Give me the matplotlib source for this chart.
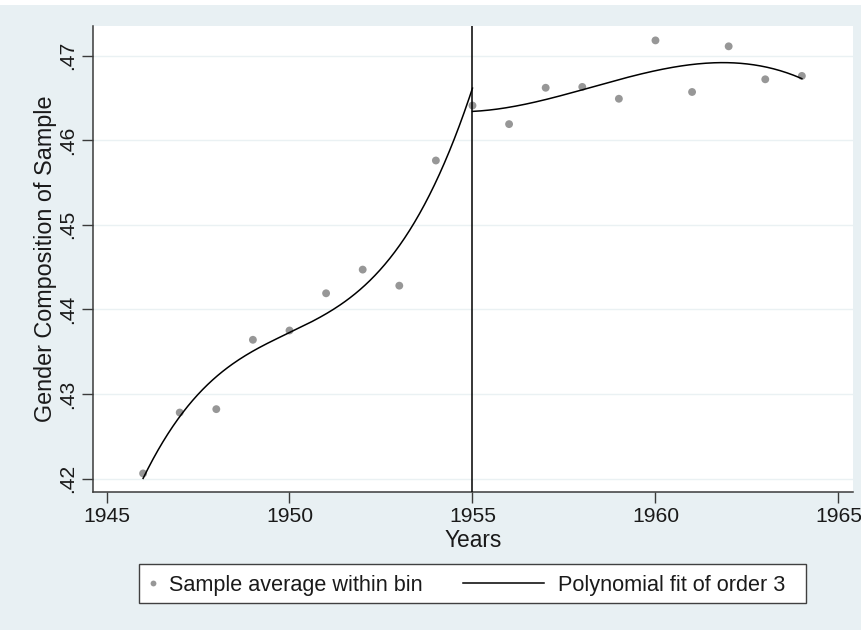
import numpy as np
import matplotlib.pyplot as plt
from matplotlib.lines import Line2D
from matplotlib.patches import Rectangle

plt.rcParams['font.family'] = ['Liberation Sans', 'DejaVu Sans']

# share of women in the sample, averaged within each birth-year bin
years = [1946, 1947, 1948, 1949, 1950, 1951, 1952, 1953, 1954, 1955,
         1956, 1957, 1958, 1959, 1960, 1961, 1962, 1963, 1964]
share = [0.4206, 0.4278, 0.4282, 0.4364, 0.4375, 0.4419, 0.4447, 0.4428, 0.4576, 0.4641,
         0.4619, 0.4662, 0.4663, 0.4649, 0.4718, 0.4657, 0.4711, 0.4672, 0.4676]

# fitted values of the cubic on each side of the cutoff
fit_years_left = [1946, 1947, 1948, 1949, 1950, 1951, 1952, 1953, 1954, 1955]
fit_left = [0.4200, 0.4273, 0.4322, 0.4348, 0.4373, 0.4396, 0.4427, 0.4472, 0.4553, 0.4661]
fit_years_right = [1955, 1956, 1957, 1958, 1959, 1960, 1961, 1962, 1963, 1964]
fit_right = [0.4634, 0.4639, 0.4648, 0.4660, 0.4671, 0.4682, 0.4690, 0.4692, 0.4686, 0.4673]

cutoff = 1955
x_ticks = [1945, 1950, 1955, 1960, 1965]
y_ticks = [0.42, 0.43, 0.44, 0.45, 0.46, 0.47]
y_tick_labels = ['.42', '.43', '.44', '.45', '.46', '.47']

BG = '#e8f0f3'
DOT = '#979797'
AXC = '#3a3a3a'
TXT = '#1a1a1a'


def cubic_curve(xs, ys):
    coef = np.polyfit(xs, ys, 3)
    xx = np.linspace(min(xs), max(xs), 200)
    return xx, np.polyval(coef, xx)


fig = plt.figure(figsize=(8.61, 6.30), dpi=100, facecolor=BG)
fig.add_artist(Rectangle((0, 1 - 5 / 630), 1, 5 / 630, transform=fig.transFigure,
                         facecolor='white', edgecolor='none'))

ax = fig.add_axes([0.1084, 0.2198, 0.8820, 0.7389])
ax.set_facecolor('white')

for yt in y_ticks:
    ax.axhline(yt, color='#eaf1f3', lw=1.0, zorder=0)

ax.scatter(years, share, s=32, color=DOT, edgecolors='none', zorder=2)

xl, yl = cubic_curve(fit_years_left, fit_left)
xr, yr = cubic_curve(fit_years_right, fit_right)
ax.plot(xl, yl, color='black', lw=1.1, zorder=3)
ax.plot(xr, yr, color='black', lw=1.1, zorder=3)

ax.axvline(cutoff, color='black', lw=1.1, zorder=3)

ax.set_xlim(1944.64, 1965.39)
ax.set_ylim(0.41846, 0.4735)
ax.set_xticks(x_ticks)
ax.set_yticks(y_ticks)
ax.set_yticklabels(y_tick_labels, rotation=90, va='center')

for side in ['top', 'right']:
    ax.spines[side].set_visible(False)
for side in ['left', 'bottom']:
    ax.spines[side].set_color(AXC)
    ax.spines[side].set_linewidth(1.1)

ax.tick_params(axis='both', length=8, width=1.0, color=AXC, labelsize=15.2,
               labelcolor=TXT)
ax.tick_params(axis='x', pad=3)
ax.tick_params(axis='y', pad=4)

ax.set_xlabel('Years', fontsize=16.4, color=TXT, labelpad=2)
ax.set_ylabel('Gender Composition of Sample', fontsize=16.8, color=TXT, labelpad=0.5)

# legend box under the plot
fig.add_artist(Rectangle((139.3 / 861, 1 - 603.3 / 630), (806 - 139.3) / 861,
                         (603.3 - 564) / 630, transform=fig.transFigure,
                         facecolor='white', edgecolor='#404040', lw=1.0))
ym = 1 - 583 / 630
fig.add_artist(Line2D([152.7 / 861], [ym], transform=fig.transFigure, marker='o',
                      markersize=4.2, color=DOT, markeredgewidth=0, linestyle='none'))
fig.add_artist(Line2D([463 / 861, 544 / 861], [ym, ym], transform=fig.transFigure,
                      color='black', lw=1.1))
yb = 1 - 590.7 / 630
fig.text(169.3 / 861, yb, 'Sample average within bin', fontsize=15.6,
         color=TXT, va='baseline', ha='left')
fig.text(558 / 861, yb, 'Polynomial fit of order 3', fontsize=15.6,
         color=TXT, va='baseline', ha='left')

fig.savefig('out.png', dpi=100, facecolor=BG)
